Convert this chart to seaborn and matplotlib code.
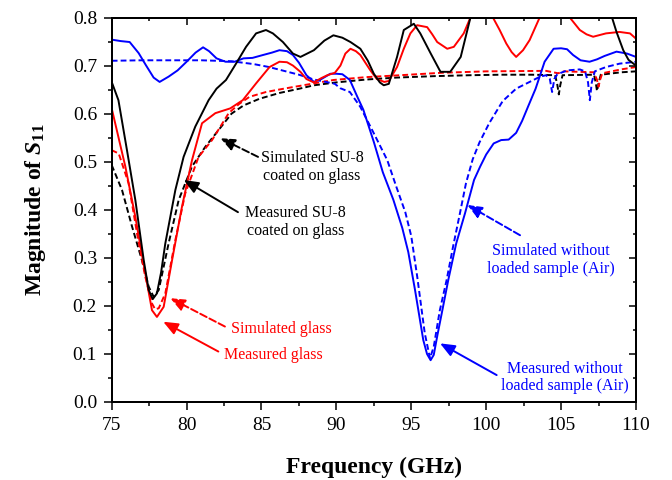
import numpy as np
import pandas as pd
import seaborn as sns
import matplotlib.pyplot as plt
from matplotlib.ticker import MultipleLocator

# curvas (frequencia em GHz, |S11|)

# medido sem amostra (ar) - azul continuo
f_meas_air = [75.0, 75.6, 76.2, 76.8, 77.3, 77.8, 78.2, 78.8, 79.4, 80.0, 80.6, 81.1,
              81.5, 82.0, 82.6, 83.2, 83.8, 84.4, 85.1, 85.7, 86.2, 86.7, 87.1, 87.5,
              88.0, 88.5, 89.0, 89.6, 90.0, 90.4, 90.9, 91.4, 91.8, 92.5, 93.1, 93.8,
              94.4, 94.8, 95.25, 95.8, 96.05, 96.29, 96.5, 96.75, 97.1, 97.47, 98.0,
              98.59, 99.19, 99.6, 100.0, 100.5, 101.0, 101.5, 102.0, 102.4, 102.8,
              103.3, 103.9, 104.5, 105.0, 105.4, 105.8, 106.3, 106.9, 107.4, 107.9,
              108.7, 109.4, 110.0]
s_meas_air = [0.754, 0.751, 0.749, 0.726, 0.700, 0.675, 0.666, 0.677, 0.690, 0.708, 0.727, 0.738,
              0.730, 0.715, 0.708, 0.708, 0.715, 0.716, 0.722, 0.727, 0.732, 0.730, 0.722, 0.706,
              0.680, 0.666, 0.672, 0.683, 0.683, 0.682, 0.670, 0.635, 0.608, 0.541, 0.478, 0.421,
              0.362, 0.312, 0.233, 0.129, 0.100, 0.087, 0.098, 0.140, 0.195, 0.254, 0.330,
              0.393, 0.462, 0.490, 0.515, 0.538, 0.545, 0.546, 0.560, 0.585, 0.615,
              0.652, 0.708, 0.735, 0.736, 0.734, 0.722, 0.711, 0.708, 0.713, 0.720,
              0.729, 0.725, 0.718]

# simulado sem amostra (ar) - azul tracejado
f_sim_air = [75.0, 77.0, 79.0, 81.0, 83.0, 84.5, 85.5, 86.5, 87.5, 88.5, 89.3, 89.9,
             90.25, 90.9, 91.6, 92.5, 93.4, 94.0, 94.6, 95.0, 95.4, 95.9, 96.25, 96.5,
             96.9, 97.36, 97.8, 98.25, 98.65, 99.1, 99.55, 100.2, 101.1, 102.0, 102.9,
             103.6, 104.0, 104.25, 104.4, 104.55, 104.75, 105.4, 106.25, 106.6, 106.8,
             106.92, 107.05, 107.25, 108.0, 108.9, 110.0]
s_sim_air = [0.710, 0.711, 0.711, 0.711, 0.709, 0.703, 0.697, 0.689, 0.681, 0.671, 0.666, 0.662,
             0.653, 0.645, 0.614, 0.559, 0.503, 0.448, 0.395, 0.345, 0.260, 0.143, 0.091, 0.115,
             0.190, 0.254, 0.325, 0.393, 0.455, 0.505, 0.540, 0.580, 0.626, 0.652, 0.666,
             0.677, 0.680, 0.672, 0.645, 0.672, 0.682, 0.690, 0.692, 0.688, 0.665,
             0.628, 0.665, 0.688, 0.697, 0.704, 0.708]

# medido SU-8 sobre vidro - preto continuo
f_meas_su8 = [75.0, 75.45, 76.02, 76.58, 77.14, 77.47, 77.74, 78.02, 78.3, 78.58, 79.25, 79.8,
              80.58, 81.47, 82.0, 82.63, 83.3, 83.97, 84.64, 85.3, 85.76, 86.43, 87.1, 87.6,
              88.5, 89.2, 89.8, 90.4, 90.94, 91.6, 92.1, 92.5, 92.9, 93.16, 93.5, 94.05,
              94.5, 95.17, 95.6, 96.3, 96.95, 97.6, 98.3, 98.95, 99.5, 100.5, 104.0,
              107.5, 108.4, 108.7, 109.15, 109.5, 110.0]
s_meas_su8 = [0.666, 0.628, 0.524, 0.420, 0.295, 0.233, 0.214, 0.226, 0.270, 0.330, 0.441, 0.510,
              0.573, 0.628, 0.652, 0.670, 0.704, 0.739, 0.767, 0.774, 0.767, 0.749, 0.725, 0.718,
              0.732, 0.752, 0.763, 0.758, 0.749, 0.735, 0.710, 0.683, 0.665, 0.659, 0.662, 0.718,
              0.774, 0.787, 0.767, 0.725, 0.687, 0.687, 0.718, 0.800, 0.860, 0.900, 0.900,
              0.860, 0.800, 0.770, 0.732, 0.712, 0.700]

# simulado SU-8 sobre vidro - preto tracejado
f_sim_su8 = [75.0, 75.69, 76.36, 77.02, 77.47, 77.8, 78.14, 78.8, 79.47, 80.36, 81.25, 82.14,
             83.0, 83.8, 84.87, 86.2, 87.54, 88.5, 90.0, 92.0, 94.0, 96.5, 99.0, 101.0,
             103.0, 104.6, 104.75, 104.85, 104.95, 105.1, 107.2, 107.32, 107.4, 107.5,
             107.65, 109.0, 110.0]
s_sim_su8 = [0.493, 0.441, 0.365, 0.295, 0.240, 0.219, 0.233, 0.330, 0.420, 0.490, 0.531, 0.566,
             0.600, 0.617, 0.631, 0.643, 0.652, 0.659, 0.665, 0.671, 0.675, 0.678, 0.680, 0.681,
             0.681, 0.680, 0.660, 0.640, 0.660, 0.680, 0.681, 0.663, 0.647, 0.663,
             0.681, 0.686, 0.688]

# medido vidro - vermelho continuo
f_meas_glass = [75.0, 75.91, 76.58, 77.24, 77.69, 78.02, 78.47, 79.03, 79.69, 80.36, 81.03, 81.92,
                82.92, 83.75, 84.64, 85.54, 86.2, 86.7, 87.1, 87.6, 88.0, 88.49, 89.0, 89.4,
                89.9, 90.27, 90.6, 90.94, 91.3, 91.6, 92.27, 92.7, 93.2, 93.5, 94.05, 94.5,
                94.94, 95.39, 96.06, 96.4, 96.73, 97.4, 97.84, 98.5, 98.95, 99.7, 100.45,
                100.9, 101.34, 101.7, 102.0, 102.46, 102.9, 103.57, 104.5, 105.58, 106.25,
                106.7, 107.14, 108.0, 108.9, 109.6, 110.0]
s_meas_glass = [0.611, 0.490, 0.385, 0.268, 0.191, 0.177, 0.198, 0.295, 0.406, 0.503, 0.580, 0.601,
                0.611, 0.628, 0.663, 0.697, 0.708, 0.707, 0.700, 0.687, 0.672, 0.665, 0.674, 0.680,
                0.685, 0.700, 0.725, 0.735, 0.730, 0.722, 0.690, 0.672, 0.666, 0.668, 0.697, 0.735,
                0.767, 0.784, 0.780, 0.765, 0.749, 0.735, 0.739, 0.767, 0.800, 0.840, 0.800,
                0.774, 0.746, 0.728, 0.718, 0.732, 0.753, 0.800, 0.850, 0.800, 0.774,
                0.765, 0.760, 0.767, 0.770, 0.767, 0.756]

# simulado vidro - vermelho tracejado
f_sim_glass = [75.0, 75.47, 76.13, 76.69, 77.24, 77.69, 77.9, 78.14, 78.58, 79.25, 79.91, 80.8,
               81.7, 82.81, 83.5, 84.2, 85.3, 86.5, 87.6, 89.8, 92.0, 94.3, 97.0, 100.0,
               104.0, 104.8, 105.2, 107.2, 107.4, 107.5, 107.6, 107.75, 109.0, 110.0]
s_sim_glass = [0.524, 0.517, 0.455, 0.351, 0.261, 0.205, 0.193, 0.195, 0.226, 0.337, 0.434, 0.510,
               0.545, 0.601, 0.620, 0.635, 0.645, 0.652, 0.658, 0.670, 0.676, 0.680, 0.685, 0.688,
               0.689, 0.684, 0.688, 0.686, 0.670, 0.656, 0.670, 0.684, 0.692, 0.697]

sns.set_theme(style='ticks', rc={'axes.edgecolor': 'black', 'axes.linewidth': 1.4,
                                 'xtick.color': 'black', 'ytick.color': 'black',
                                 'text.color': 'black', 'axes.labelcolor': 'black'})
plt.rcParams['font.family'] = ['Liberation Serif', 'DejaVu Serif']
plt.rcParams['mathtext.fontset'] = 'custom'
plt.rcParams['mathtext.rm'] = 'Liberation Serif:bold'
plt.rcParams['mathtext.it'] = 'Liberation Serif:bold:italic'
plt.rcParams['mathtext.bf'] = 'Liberation Serif:bold'

fig = plt.figure(figsize=(6.72, 4.8), dpi=100)
ax = fig.add_axes([0.1662, 0.1625, 0.7802, 0.801])

dash = (0, (3, 1.6))
curvas = [
    (f_sim_su8, s_sim_su8, 'black', dash),
    (f_sim_glass, s_sim_glass, 'red', dash),
    (f_sim_air, s_sim_air, 'blue', dash),
    (f_meas_air, s_meas_air, 'blue', '-'),
    (f_meas_glass, s_meas_glass, 'red', '-'),
    (f_meas_su8, s_meas_su8, 'black', '-'),
]
for f, s, cor, estilo in curvas:
    df = pd.DataFrame({'f': f, 's': s})
    sns.lineplot(data=df, x='f', y='s', color=cor, linestyle=estilo, lw=1.4, ax=ax)

ax.set_xlim(75, 110)
ax.set_ylim(0, 0.8)
ax.xaxis.set_major_locator(MultipleLocator(5))
ax.xaxis.set_minor_locator(MultipleLocator(2.5))
ax.yaxis.set_major_locator(MultipleLocator(0.1))
ax.yaxis.set_minor_locator(MultipleLocator(0.05))
ax.yaxis.set_major_formatter(plt.FormatStrFormatter('%.1f'))
ax.tick_params(which='major', direction='out', length=5.5, width=1.1, labelsize=14)
ax.tick_params(axis='x', which='major', pad=5)
ax.tick_params(axis='y', which='major', pad=5)
ax.tick_params(which='minor', direction='out', length=3, width=1.1)

# ticks para dentro no topo e na direita (estilo Origin)
ax_top = ax.twiny()
ax_top.set_xlim(ax.get_xlim())
ax_top.xaxis.set_major_locator(MultipleLocator(5))
ax_top.xaxis.set_minor_locator(MultipleLocator(2.5))
ax_top.tick_params(which='major', direction='in', length=5, width=1.1, labeltop=False)
ax_top.tick_params(which='minor', direction='in', length=2.5, width=1.1)
ax_right = ax.twinx()
ax_right.set_ylim(ax.get_ylim())
ax_right.yaxis.set_major_locator(MultipleLocator(0.1))
ax_right.yaxis.set_minor_locator(MultipleLocator(0.05))
ax_right.tick_params(which='major', direction='in', length=5, width=1.1, labelright=False)
ax_right.tick_params(which='minor', direction='in', length=2.5, width=1.1)

ax.set_xlabel('Frequency (GHz)', fontsize=17, fontweight='bold', labelpad=17)
ax.set_ylabel(r'Magnitude of $S_{11}$', fontsize=17, fontweight='bold', labelpad=18)

# anotacoes com setas
anot = [
    ('Simulated SU-8\ncoated on glass', (88.37, 0.489), (84.77, 0.51), (82.25, 0.549), 'black', '--'),
    ('Measured SU-8\ncoated on glass', (87.27, 0.374), (83.43, 0.395), (79.81, 0.462), 'black', '-'),
    ('Simulated glass', (86.33, 0.152), (82.56, 0.157), (78.91, 0.216), 'red', '--'),
    ('Measured glass', (85.82, 0.098), (82.12, 0.105), (78.44, 0.167), 'red', '-'),
    ('Simulated without\nloaded sample (Air)', (104.33, 0.296), (102.26, 0.347), (98.74, 0.41), 'blue', '--'),
    ('Measured without\nloaded sample (Air)', (105.23, 0.051), (100.7, 0.056), (96.92, 0.122), 'blue', '-'),
]
for texto, pos, cauda, ponta, cor, ls in anot:
    ax.text(pos[0], pos[1], texto, color=cor, fontsize=11.5, ha='center', va='center',
            linespacing=1.15)
    ax.annotate('', xy=ponta, xytext=cauda,
                arrowprops=dict(arrowstyle='-|>,head_length=0.8,head_width=0.33',
                                color=cor, lw=1.4, linestyle=ls, mutation_scale=11,
                                shrinkA=0, shrinkB=0))

fig.savefig('out.png', dpi=100)
